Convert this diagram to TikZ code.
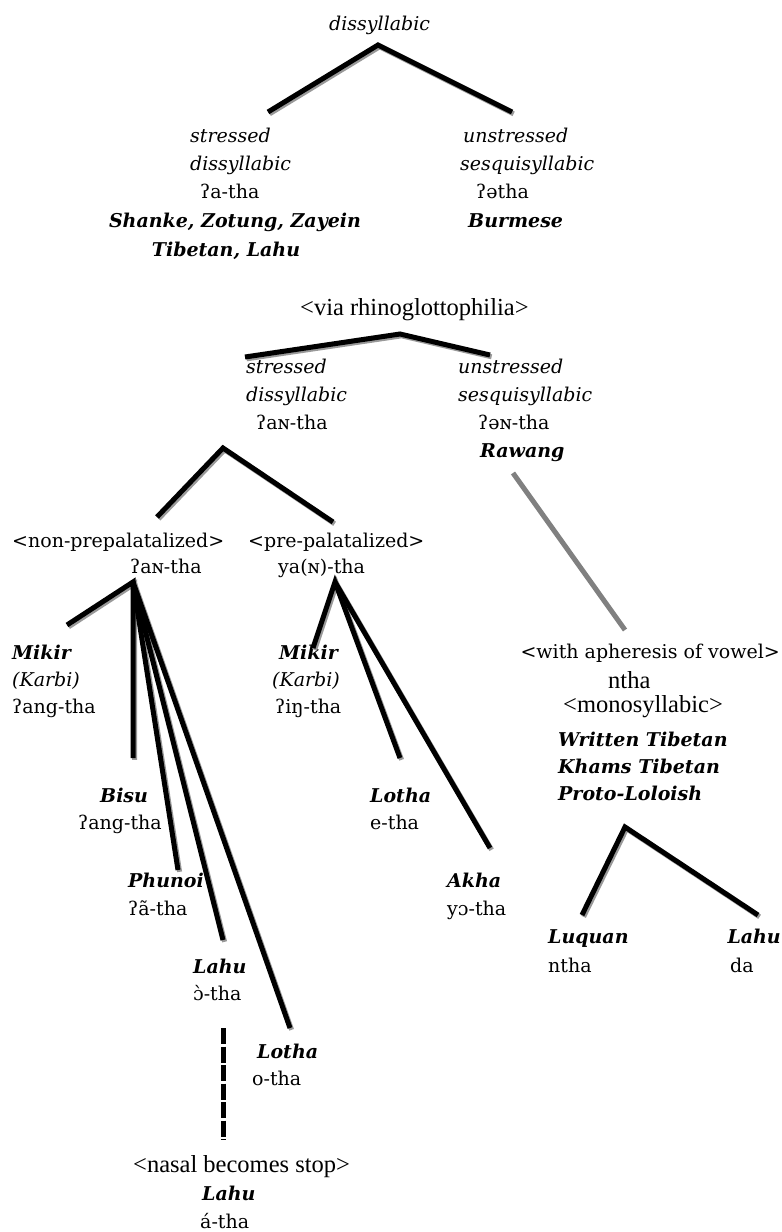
\documentclass[tikz,border=0pt]{standalone}
\usepackage{fontspec}
\setmainfont{DejaVu Serif}
\newfontfamily\tms{Liberation Serif}
\begin{document}
\begin{tikzpicture}[x=1pt,y=-1pt,
  lbl/.style={inner sep=0pt, anchor=base west, font=\fontsize{19}{22}\selectfont},
  it/.style={lbl, font=\fontsize{19}{22}\selectfont\itshape},
  bi/.style={lbl, font=\fontsize{19}{22}\selectfont\bfseries\itshape},
  tm/.style={lbl, font=\fontsize{24.5}{28}\selectfont\tms},
  br/.style={line width=5pt, line join=miter, preaction={draw=black!40, line width=5pt, transform canvas={xshift=1.6pt,yshift=-1.8pt}}},
  dsh/.style={line width=5pt, dash pattern=on 16pt off 2.5pt},
  gry/.style={line width=5pt, draw=black!50}
]
\useasboundingbox[fill=white] (0,0) rectangle (782,1232);

% ---------- labels ----------
\node[it] (top) at (329,30) {dissyllabic};
\node[it] (s1a) at (190,142) {stressed};
\node[it] (s1b) at (190,170) {dissyllabic};
\node[lbl] (s1c) at (200,198) {ʔa-tha};
\node[bi, anchor=base] (s1d) at (235,227) {Shanke, Zotung, Zayein};
\node[bi, anchor=base] (s1e) at (226,256) {Tibetan, Lahu};
\node[it] (u1a) at (463,142) {unstressed};
\node[it] (u1b) at (460,170) {sesquisyllabic};
\node[lbl] (u1c) at (476,198) {ʔətha};
\node[bi] (u1d) at (468,227) {Burmese};

\node[tm] (via) at (300,315) {<via rhinoglottophilia>};
\node[it] (s2a) at (246,373) {stressed};
\node[it] (s2b) at (246,401) {dissyllabic};
\node[lbl] (s2c) at (256,429) {ʔaɴ-tha};
\node[it] (u2a) at (458,373) {unstressed};
\node[it] (u2b) at (458,401) {sesquisyllabic};
\node[lbl] (u2c) at (478,429) {ʔəɴ-tha};
\node[bi] (u2d) at (480,457) {Rawang};

\node[lbl] (np) at (12,547) {<non-prepalatalized>};
\node[lbl] (npf) at (130,573) {ʔaɴ-tha};
\node[lbl] (pp) at (248,547) {<pre-palatalized>};
\node[lbl] (ppf) at (278,573) {ya(ɴ)-tha};

\node[bi] (mk1) at (12,659) {Mikir};
\node[it] (kb1) at (12,686) {(Karbi)};
\node[lbl] (mf1) at (12,713) {ʔang-tha};
\node[bi] (bs) at (100,802) {Bisu};
\node[lbl] (bsf) at (78,829) {ʔang-tha};
\node[bi] (ph) at (128,887) {Phunoi};
\node[lbl] (phf) at (128,915) {ʔã-tha};
\node[bi] (lh1) at (193,973) {Lahu};
\node[lbl] (lh1f) at (193,1000) {ɔ̀-tha};
\node[bi] (lt1) at (257,1058) {Lotha};
\node[lbl] (lt1f) at (252,1085) {o-tha};
\node[tm] (nas) at (133,1172) {<nasal becomes stop>};
\node[bi] (lh2) at (202,1200) {Lahu};
\node[lbl] (lh2f) at (200,1228) {á-tha};

\node[bi] (mk2) at (279,659) {Mikir};
\node[it] (kb2) at (272,686) {(Karbi)};
\node[lbl] (mf2) at (275,713) {ʔiŋ-tha};
\node[bi] (lt2) at (370,802) {Lotha};
\node[lbl] (lt2f) at (370,829) {e-tha};
\node[bi] (ak) at (447,887) {Akha};
\node[lbl] (akf) at (447,915) {yɔ-tha};

\node[lbl, anchor=base east] (aph) at (780,658) {<with apheresis of vowel>};
\node[tm] (nt) at (608,688) {ntha};
\node[tm] (mono) at (563,712) {<monosyllabic>};
\node[bi] (wt) at (558,746) {Written Tibetan};
\node[bi] (kt) at (558,773) {Khams Tibetan};
\node[bi] (pl) at (558,800) {Proto-Loloish};
\node[bi] (lq) at (548,943) {Luquan};
\node[lbl] (lqf) at (548,972) {ntha};
\node[bi, anchor=base east] (lh3) at (781,943) {Lahu};
\node[lbl] (lh3f) at (730,972) {da};

% ---------- connector points ----------
\coordinate (t1) at (378,45);  \coordinate (t1l) at (268,112); \coordinate (t1r) at (512,112);
\coordinate (t2) at (400,334); \coordinate (t2l) at (245,357); \coordinate (t2r) at (490,355);
\coordinate (t3) at (223,448); \coordinate (t3l) at (157,517); \coordinate (t3r) at (333,522);
\coordinate (f1) at (133,582);
\coordinate (f1a) at (67,625); \coordinate (f1b) at (133,758); \coordinate (f1c) at (178,870);
\coordinate (f1d) at (223,940); \coordinate (f1e) at (290,1028);
\coordinate (f2) at (335,582);
\coordinate (f2a) at (313,648); \coordinate (f2b) at (400,758); \coordinate (f2c) at (490,848);
\coordinate (g1) at (513,473); \coordinate (g2) at (625,630);
\coordinate (t4) at (625,827); \coordinate (t4l) at (582,915); \coordinate (t4r) at (758,915);
\coordinate (d1) at (223,1028); \coordinate (d2) at (223,1140);

% ---------- connectors ----------
\draw[br] (t1l) -- (t1) -- (t1r);
\draw[br] (t2l) -- (t2) -- (t2r);
\draw[br] (t3l) -- (t3) -- (t3r);
\draw[br] (f1a) -- (f1) -- (f1b);
\draw[br] (f1) -- (f1c);
\draw[br] (f1) -- (f1d);
\draw[br] (f1) -- (f1e);
\draw[br] (f2a) -- (f2) -- (f2b);
\draw[br] (f2) -- (f2c);
\draw[gry] (g1) -- (g2);
\draw[br] (t4l) -- (t4) -- (t4r);
\draw[dsh] (d1) -- (d2);
\end{tikzpicture}
\end{document}
